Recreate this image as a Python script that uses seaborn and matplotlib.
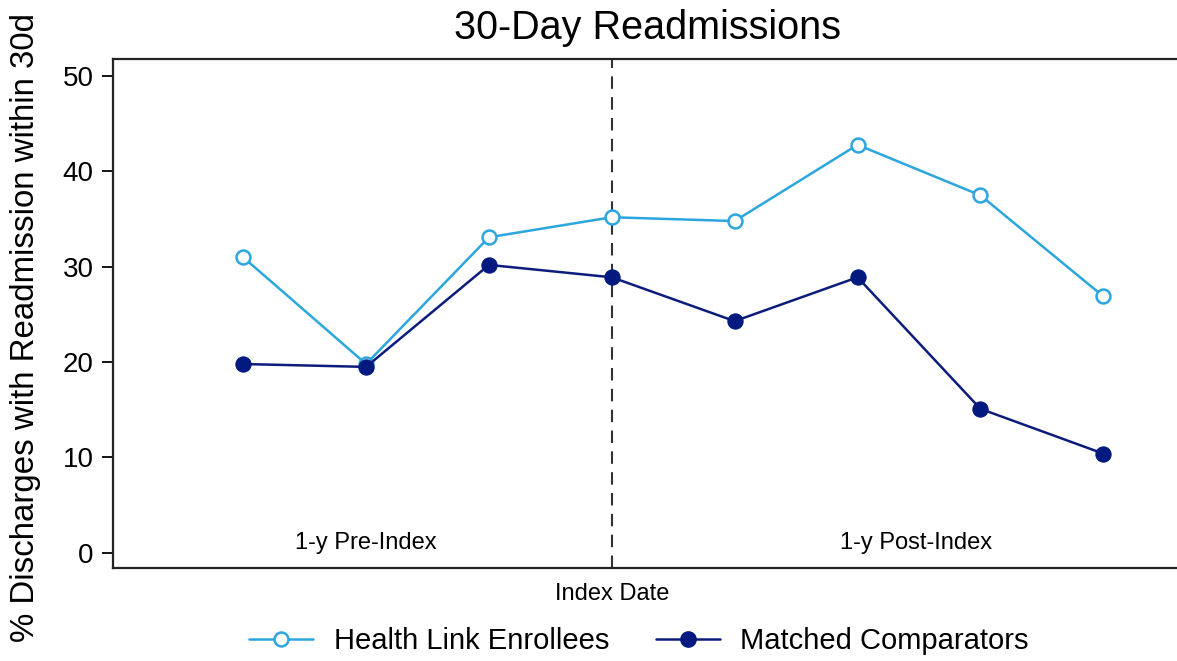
import pandas as pd
import matplotlib
matplotlib.use("Agg")
import matplotlib.pyplot as plt
import seaborn as sns
from matplotlib.lines import Line2D

# Data (quarter relative to index date)
quarter = [-3, -2, -1, 0, 1, 2, 3, 4]
health_link = [31.0, 19.8, 33.1, 35.2, 34.8, 42.8, 37.5, 26.9]
matched = [19.8, 19.5, 30.2, 28.9, 24.3, 28.9, 15.1, 10.4]
series_names = ["Health Link Enrollees", "Matched Comparators"]
y_ticks = [0, 10, 20, 30, 40, 50]

df = pd.DataFrame({
    "quarter": quarter * 2,
    "pct": health_link + matched,
    "group": [series_names[0]] * len(quarter) + [series_names[1]] * len(quarter),
})

light = "#2ba6de"
navy = "#0c1c7c"

sns.set_style("white")
plt.rcParams["font.family"] = ["Liberation Sans", "DejaVu Sans"]
plt.rcParams["text.color"] = "black"
plt.rcParams["axes.labelcolor"] = "black"
plt.rcParams["xtick.color"] = "black"
plt.rcParams["ytick.color"] = "black"

fig = plt.figure(figsize=(11.77, 6.61), dpi=100)
ax = fig.add_axes([0.096, 0.1407, 0.904, 0.77])

# Health Link - hollow circles
sns.lineplot(data=df[df["group"] == series_names[0]], x="quarter", y="pct",
             color=light, linewidth=1.8, marker="o", markersize=10,
             markerfacecolor="white", markeredgecolor=light, markeredgewidth=1.8,
             ax=ax, legend=False)
# Matched comparators - filled circles
sns.lineplot(data=df[df["group"] == series_names[1]], x="quarter", y="pct",
             color=navy, linewidth=1.8, marker="o", markersize=11,
             markerfacecolor="#021a80", markeredgecolor="#021a80",
             ax=ax, legend=False)

# Index date line
ax.axvline(0, color="#333333", linestyle=(0, (6, 4)), linewidth=1.5, zorder=0)

ax.set_xlim(-4.06, 4.6)
ax.set_ylim(-1.6, 51.8)
ax.set_yticks(y_ticks)
ax.set_yticklabels([str(t) for t in y_ticks], fontsize=20)
ax.set_xticks([0])
ax.set_xticklabels(["Index Date"], fontsize=17)
ax.tick_params(axis="x", length=0, pad=11)
ax.tick_params(axis="y", length=8, width=1.3, direction="out", left=True, pad=6)

ax.set_xlabel("")
ax.set_ylabel("% Discharges with Readmission within 30d", fontsize=23.8)
ax.yaxis.set_label_coords(-0.068, 0.472)

for side in ["left", "top", "bottom"]:
    ax.spines[side].set_visible(True)
    ax.spines[side].set_color("#222222")
    ax.spines[side].set_linewidth(1.6)
ax.spines["right"].set_visible(False)

ax.text(-2, 1.0, "1-y Pre-Index", ha="center", va="center", fontsize=17)
ax.text(2.48, 1.0, "1-y Post-Index", ha="center", va="center", fontsize=17)

fig.text(0.55, 0.958, "30-Day Readmissions", ha="center", va="center", fontsize=28.5)

handles = [
    Line2D([0], [0], color=light, linewidth=1.8, marker="o", markersize=10,
           markerfacecolor="white", markeredgecolor=light, markeredgewidth=1.8),
    Line2D([0], [0], color=navy, linewidth=1.8, marker="o", markersize=11,
           markerfacecolor="#021a80", markeredgecolor="#021a80"),
]
fig.legend(handles, series_names, loc="center", bbox_to_anchor=(0.543, 0.03),
           ncol=2, frameon=False, fontsize=21, handlelength=2.2,
           handletextpad=0.7, columnspacing=1.6)

fig.savefig("out.png", dpi=100)
